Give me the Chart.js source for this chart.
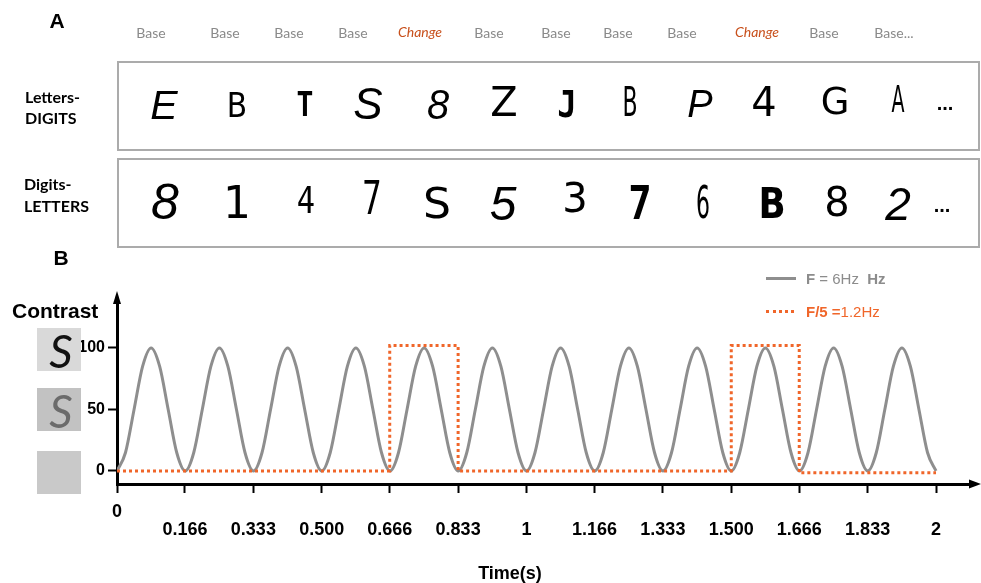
<!DOCTYPE html>
<html>
<head>
<meta charset="utf-8">
<script src="https://cdn.jsdelivr.net/npm/chart.js@4"></script>
<style>
  html, body { margin: 0; padding: 0; background: #fff; }
  body { width: 981px; height: 583px; position: relative; overflow: hidden;
         font-family: "Liberation Sans", Arial, sans-serif; }
  #c { position: absolute; left: 0; top: 0; z-index: 0; }
  .t { position: absolute; line-height: 1; white-space: nowrap; z-index: 1; }
  .box { position: absolute; border: 2px solid #ababab; box-sizing: border-box; z-index: 1; }
  .swatch { position: absolute; z-index: 1; }
</style>
</head>
<body>
<canvas id="c" width="981" height="583"></canvas>
<script>
// ---------- Panel A: stimulus streams ----------
const streamLabels   = ['Base', 'Base', 'Base', 'Base', 'Change', 'Base', 'Base', 'Base', 'Base', 'Change', 'Base', 'Base...'];
const lettersDigits  = ['E', 'B', 'T', 'S', '8', 'Z', 'J', 'B', 'P', '4', 'G', 'A'];
const digitsLetters  = ['8', '1', '4', '7', 'S', '5', '3', '7', '6', 'B', '8', '2'];
const rowTitles      = [['Letters-', 'DIGITS'], ['Digits-', 'LETTERS']];

// ---------- Panel B: contrast modulation ----------
// base stimulation (6 Hz), sampled every 1/48 s
const baseTimes = [
  0, 0.0208, 0.0417, 0.0625, 0.0833, 0.1042, 0.125, 0.1458,
  0.1667, 0.1875, 0.2083, 0.2292, 0.25, 0.2708, 0.2917, 0.3125,
  0.3333, 0.3542, 0.375, 0.3958, 0.4167, 0.4375, 0.4583, 0.4792,
  0.5, 0.5208, 0.5417, 0.5625, 0.5833, 0.6042, 0.625, 0.6458,
  0.6667, 0.6875, 0.7083, 0.7292, 0.75, 0.7708, 0.7917, 0.8125,
  0.8333, 0.8542, 0.875, 0.8958, 0.9167, 0.9375, 0.9583, 0.9792,
  1, 1.0208, 1.0417, 1.0625, 1.0833, 1.1042, 1.125, 1.1458,
  1.1667, 1.1875, 1.2083, 1.2292, 1.25, 1.2708, 1.2917, 1.3125,
  1.3333, 1.3542, 1.375, 1.3958, 1.4167, 1.4375, 1.4583, 1.4792,
  1.5, 1.5208, 1.5417, 1.5625, 1.5833, 1.6042, 1.625, 1.6458,
  1.6667, 1.6875, 1.7083, 1.7292, 1.75, 1.7708, 1.7917, 1.8125,
  1.8333, 1.8542, 1.875, 1.8958, 1.9167, 1.9375, 1.9583, 1.9792,
  2
];
const baseContrast = [
  0, 15, 50, 85, 100, 85, 50, 15,
  0, 15, 50, 85, 100, 85, 50, 15,
  0, 15, 50, 85, 100, 85, 50, 15,
  0, 15, 50, 85, 100, 85, 50, 15,
  0, 15, 50, 85, 100, 85, 50, 15,
  0, 15, 50, 85, 100, 85, 50, 15,
  0, 15, 50, 85, 100, 85, 50, 15,
  0, 15, 50, 85, 100, 85, 50, 15,
  0, 15, 50, 85, 100, 85, 50, 15,
  0, 15, 50, 85, 100, 85, 50, 15,
  0, 15, 50, 85, 100, 85, 50, 15,
  0, 15, 50, 85, 100, 85, 50, 15,
  0
];
// oddball (change) stimulation, F/5 = 1.2 Hz
const changeTimes    = [0, 0.666, 0.666, 0.833, 0.833, 1.5, 1.5, 1.666, 1.666, 2];
const changeContrast = [0, 0, 102, 102, 0, 0, 102, 102, -1.5, -1.5];

const timeTicks      = [0, 0.166, 0.333, 0.5, 0.666, 0.833, 1, 1.166, 1.333, 1.5, 1.666, 1.833, 2];
const timeTickLabels = ['0', '0.166', '0.333', '0.500', '0.666', '0.833', '1', '1.166', '1.333', '1.500', '1.666', '1.833', '2'];
const contrastTicks  = [0, 50, 100];

const GRAY = '#8e8e8e';
const ORANGE = '#f0662a';

// ---------- helpers for the HTML parts ----------
function place(text, x, y, css, anchor) {
  const s = document.createElement('span');
  s.className = 't';
  s.textContent = text;
  s.style.left = x + 'px';
  s.style.top = y + 'px';
  const tx = anchor === 'left' ? '0' : '-50%';
  s.style.transform = 'translate(' + tx + ',-50%)' + (css.sx ? ' scaleX(' + css.sx + ')' : '');
  for (const k in css) if (k !== 'sx') s.style[k] = css[k];
  document.body.appendChild(s);
  return s;
}

// panel letters
place('A', 57, 21, { font: 'bold 21px "Liberation Sans"' });
place('B', 61, 258, { font: 'bold 21px "Liberation Sans"' });

// stream labels above the boxes
const labelX = [151, 225, 289, 353, 420, 489, 556, 618, 682, 757, 824, 894];
streamLabels.forEach((lab, i) => {
  const isChange = lab === 'Change';
  place(lab, labelX[i], isChange ? 31 : 32, {
    font: (isChange ? 'italic ' : '') + '14px Lato',
    color: isChange ? '#c8501c' : '#8a8a8a'
  });
});

// stream boxes
[[61, 151], [158, 248]].forEach(([top, bottom]) => {
  const b = document.createElement('div');
  b.className = 'box';
  b.style.left = '117px';
  b.style.top = top + 'px';
  b.style.width = (980 - 117) + 'px';
  b.style.height = (bottom - top) + 'px';
  document.body.appendChild(b);
});

// row titles
place(rowTitles[0][0], 25, 96, { font: 'bold 16px Lato' }, 'left');
place(rowTitles[0][1], 25, 117, { font: 'bold 16px Lato' }, 'left');
place(rowTitles[1][0], 24, 183, { font: 'bold 16px Lato' }, 'left');
place(rowTitles[1][1], 24, 205, { font: 'bold 16px Lato' }, 'left');

// glyph styling for each position of the two streams
const row1X = [164, 237, 305, 368, 438, 504, 567, 630, 700, 764, 835, 898];
const row1Style = [
  { font: 'italic 41px "Liberation Sans"' },
  { font: '33px "DejaVu Sans"', sx: 0.9 },
  { font: 'bold 33px "DejaVu Sans Mono"', sx: 0.85 },
  { font: 'italic 44px "Liberation Sans"' },
  { font: 'italic 42px "Liberation Sans"', sx: 0.95 },
  { font: '40px "DejaVu Sans"' },
  { font: 'bold 38px "DejaVu Sans Mono"', sx: 0.85 },
  { font: '40px "DejaVu Sans"', sx: 0.55 },
  { font: 'italic 38px "Liberation Sans"' },
  { font: '40px "DejaVu Sans"' },
  { font: '37px "DejaVu Sans"' },
  { font: '38px "DejaVu Sans"', sx: 0.5 }
];
const row1Y = [105, 105, 104, 104, 105, 102, 104, 102, 104, 102, 101, 99];
lettersDigits.forEach((g, i) => place(g, row1X[i], row1Y[i], row1Style[i]));
place('...', 945, 103, { font: 'bold 20px "Liberation Sans"' });

const row2X = [165, 237, 306, 372, 437, 503, 575, 640, 703, 772, 837, 898];
const row2Style = [
  { font: 'italic 50px "Liberation Sans"' },
  { font: '44px "DejaVu Sans"' },
  { font: '38px "DejaVu Sans Mono"', sx: 0.8 },
  { font: '46px "DejaVu Sans Mono"', sx: 0.7 },
  { font: '42px "DejaVu Sans"', sx: 1.05 },
  { font: 'italic 48px "Liberation Sans"' },
  { font: '40px "DejaVu Sans"' },
  { font: 'bold 46px "DejaVu Sans Mono"', sx: 0.85 },
  { font: '44px "DejaVu Sans"', sx: 0.5 },
  { font: 'bold 42px "DejaVu Sans"', sx: 0.85 },
  { font: '40px "DejaVu Sans"' },
  { font: 'italic 46px "Liberation Sans"' }
];
const row2Y = [202, 202, 200, 198, 203, 203, 198, 203, 202, 203, 202, 204];
digitsLetters.forEach((g, i) => place(g, row2X[i], row2Y[i], row2Style[i]));
place('...', 942, 205, { font: 'bold 20px "Liberation Sans"' });

// ---------- Panel B decorations ----------
place('Contrast', 12, 311, { font: 'bold 21px "Liberation Sans"' }, 'left');

// contrast level swatches
const swatches = [
  { top: 328, bg: '#d9d9d9', s: '#111111' },
  { top: 388, bg: '#c2c2c2', s: '#6b6b6b' },
  { top: 451, bg: '#c9c9c9', s: null }
];
swatches.forEach(w => {
  const d = document.createElement('div');
  d.className = 'swatch';
  d.style.cssText += 'left:37px;top:' + w.top + 'px;width:44px;height:43px;background:' + w.bg + ';';
  document.body.appendChild(d);
  if (w.s) place('S', 61, w.top + 22, { font: 'italic 46px Lato', color: w.s });
});

// legend
const lg1 = document.createElement('div');
lg1.className = 'swatch';
lg1.style.cssText += 'left:766px;top:277px;width:30px;height:3px;background:' + GRAY + ';';
document.body.appendChild(lg1);
const lg2 = document.createElement('div');
lg2.className = 'swatch';
lg2.style.cssText += 'left:766px;top:310px;width:28px;height:0;border-top:3px dotted ' + ORANGE + ';';
document.body.appendChild(lg2);

const leg1 = place('', 806, 278, { font: '15px "Liberation Sans"', color: '#8c8c8c' }, 'left');
leg1.innerHTML = '<b>F</b> = 6Hz&nbsp; <b>Hz</b>';
const leg2 = place('', 806, 311, { font: '15px "Liberation Sans"', color: ORANGE }, 'left');
leg2.innerHTML = '<b>F/5 =</b>1.2Hz';

place('Time(s)', 510, 573, { font: 'bold 18px "Liberation Sans"' });

// ---------- chart ----------
const axisArrows = {
  id: 'axisArrows',
  afterDraw(chart) {
    const { ctx, chartArea: { left, top, right, bottom } } = chart;
    ctx.save();
    ctx.fillStyle = '#000';
    ctx.beginPath();
    ctx.moveTo(left, top - 9);
    ctx.lineTo(left - 4, top + 4);
    ctx.lineTo(left + 4, top + 4);
    ctx.closePath();
    ctx.fill();
    ctx.beginPath();
    ctx.moveTo(right + 6, bottom);
    ctx.lineTo(right - 6, bottom - 4.5);
    ctx.lineTo(right - 6, bottom + 4.5);
    ctx.closePath();
    ctx.fill();
    ctx.restore();
  }
};

new Chart(document.getElementById('c'), {
  type: 'line',
  data: {
    datasets: [
      {
        label: 'F/5 = 1.2Hz',
        data: changeTimes.map((t, i) => ({ x: t, y: changeContrast[i] })),
        borderColor: ORANGE,
        borderWidth: 3,
        borderDash: [3, 3],
        pointRadius: 0,
        tension: 0,
        fill: false,
        order: 0
      },
      {
        label: 'F = 6Hz',
        data: baseTimes.map((t, i) => ({ x: t, y: baseContrast[i] })),
        borderColor: GRAY,
        borderWidth: 3,
        pointRadius: 0,
        cubicInterpolationMode: 'monotone',
        fill: false,
        order: 1
      }
    ]
  },
  options: {
    responsive: false,
    animation: false,
    events: [],
    layout: { padding: { top: 300, right: 6, left: 0, bottom: 0 } },
    plugins: { legend: { display: false }, tooltip: { enabled: false } },
    scales: {
      x: {
        type: 'linear',
        min: 0,
        max: 2.0952,
        afterFit(s) { s.height = 99; },
        afterBuildTicks(s) { s.ticks = timeTicks.map(v => ({ value: v })); },
        ticks: {
          autoSkip: false,
          maxRotation: 0,
          color: '#000',
          padding: 10,
          font: { family: '"Liberation Sans", Arial', size: 18, weight: 'bold', lineHeight: 1 },
          callback: (v, i) => i === 0 ? timeTickLabels[0] : ['', timeTickLabels[i]]
        },
        grid: { drawOnChartArea: false, drawTicks: true, tickLength: 9, tickWidth: 2, tickColor: '#000' },
        border: { display: true, color: '#000', width: 3 }
      },
      y: {
        min: -10.6,
        max: 139,
        afterFit(s) { s.width = 117; },
        afterBuildTicks(s) { s.ticks = contrastTicks.map(v => ({ value: v })); },
        ticks: {
          color: '#000',
          padding: 3,
          font: { family: '"Liberation Sans", Arial', size: 16, weight: 'bold' }
        },
        grid: { drawOnChartArea: false, drawTicks: true, tickLength: 9, tickWidth: 2, tickColor: '#000' },
        border: { display: true, color: '#000', width: 3 }
      }
    }
  },
  plugins: [axisArrows]
});
</script>
</body>
</html>
